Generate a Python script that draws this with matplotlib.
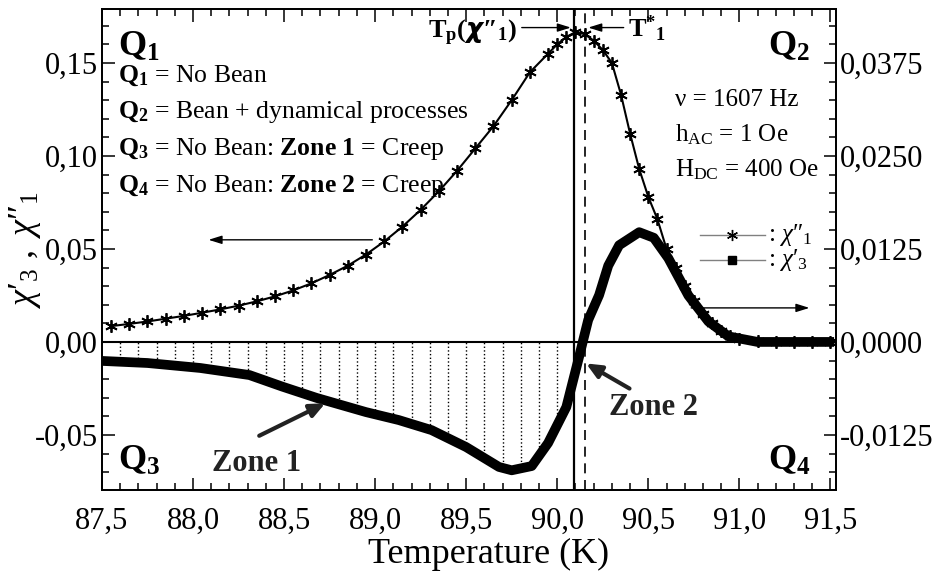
import numpy as np
import matplotlib
matplotlib.use("Agg")
import matplotlib.pyplot as plt
from matplotlib.ticker import MultipleLocator, FuncFormatter

plt.rcParams["font.family"] = ["Liberation Serif", "DejaVu Serif"]
plt.rcParams["mathtext.fontset"] = "custom"
plt.rcParams["mathtext.rm"] = "Liberation Serif"
plt.rcParams["mathtext.it"] = "Liberation Serif:italic"
plt.rcParams["mathtext.bf"] = "Liberation Serif:bold"

# chi''_1 (left axis)
t_chi1 = [87.55, 87.65, 87.75, 87.85, 87.95, 88.05, 88.15, 88.25, 88.35, 88.45,
          88.55, 88.65, 88.75, 88.85, 88.95, 89.05, 89.15, 89.25, 89.35, 89.45,
          89.55, 89.65, 89.75, 89.85, 89.95, 90.00, 90.05, 90.10, 90.15, 90.20,
          90.25, 90.30, 90.35, 90.40, 90.45, 90.50, 90.55, 90.60, 90.65, 90.70,
          90.75, 90.80, 90.85, 90.90, 90.95, 91.00, 91.10, 91.20, 91.30, 91.40, 91.50]
chi1 = [0.0085, 0.0097, 0.0110, 0.0125, 0.0140, 0.0157, 0.0175, 0.0195, 0.0218, 0.0245,
        0.0277, 0.0315, 0.0360, 0.0410, 0.0470, 0.0540, 0.0620, 0.0710, 0.0810, 0.0920,
        0.1040, 0.1160, 0.1300, 0.1450, 0.1550, 0.1600, 0.1640, 0.1665, 0.1655, 0.1620,
        0.1570, 0.1500, 0.1330, 0.1120, 0.0930, 0.0780, 0.0660, 0.0500, 0.0400, 0.0300,
        0.0220, 0.0150, 0.0100, 0.0060, 0.0030, 0.0015, 0.0005, 0.0, 0.0, 0.0, 0.0]

# chi'_3 (right axis)
t_chi3 = [87.50, 87.75, 88.04, 88.31, 88.49, 88.68, 88.95, 89.13, 89.31, 89.50,
          89.68, 89.75, 89.86, 89.95, 90.05, 90.12, 90.14, 90.17, 90.23, 90.28,
          90.34, 90.45, 90.53, 90.61, 90.72, 90.83, 90.94, 91.10, 91.30, 91.52]
chi3 = [-0.00255, -0.00283, -0.0035, -0.00445, -0.0060, -0.00753, -0.00943, -0.0105,
        -0.01185, -0.01413, -0.0168, -0.01725, -0.01668, -0.01358, -0.00875, -0.0020,
        0.0, 0.00295, 0.0063, 0.01025, 0.0130, 0.01475, 0.0140, 0.01125, 0.00625,
        0.00275, 0.00075, 0.0, 0.0, 0.0]

t_peak = 90.09
t_star = 90.155

fig = plt.figure(figsize=(9.35, 5.79), dpi=100)
ax = fig.add_axes([0.109, 0.1537, 0.785, 0.8308])
ax2 = ax.twinx()

ax.set_xlim(87.5, 91.53)
ax.set_ylim(-0.0796, 0.179)
ax2.set_ylim(-0.0796 / 4, 0.179 / 4)

comma = lambda fmt: FuncFormatter(lambda v, p: (fmt % v).replace(".", ","))
ax.xaxis.set_major_locator(MultipleLocator(0.5))
ax.xaxis.set_minor_locator(MultipleLocator(0.1))
ax.xaxis.set_major_formatter(comma("%.1f"))
ax.yaxis.set_major_locator(MultipleLocator(0.05))
ax.yaxis.set_minor_locator(MultipleLocator(0.01))
ax.yaxis.set_major_formatter(comma("%.2f"))
ax2.yaxis.set_major_locator(MultipleLocator(0.0125))
ax2.yaxis.set_minor_locator(MultipleLocator(0.0025))
ax2.yaxis.set_major_formatter(comma("%.4f"))

for a in (ax, ax2):
    a.tick_params(which="both", direction="in", labelsize=22, width=1.1, pad=3)
    a.tick_params(which="major", length=9)
    a.tick_params(which="minor", length=5)
    for s in a.spines.values():
        s.set_linewidth(1.3)
ax.tick_params(which="both", top=True)
ax.tick_params(axis="x", pad=12)

ax.set_xlabel("Temperature (K)", fontsize=26)
ax.xaxis.set_label_coords(0.527, -0.1)
ax.set_ylabel(r"$\chi′_3\ ,\ \chi″_1$", fontsize=26, labelpad=-6)

# reference lines
ax.axhline(0, color="black", lw=1.5, zorder=2)
ax.axvline(t_peak, color="black", lw=1.6, zorder=2)
ax.axvline(t_star, color="black", lw=1.2, ls=(0, (6, 4)), zorder=2)

# curves
ax.plot(t_chi1, chi1, color="black", lw=1.5, marker=(6, 2, 0), ms=9, mew=1.3, zorder=4)
ax2.plot(t_chi3, chi3, color="black", lw=7, solid_capstyle="butt", zorder=4)

# dotted hatching between chi'3 and zero (zone 1)
t3 = np.array(t_chi3)
c3 = np.array(chi3)
poly = ax2.fill_between(t3, c3, 0, where=t3 <= 90.14, facecolor="none", edgecolor="none")
vl = ax2.vlines(np.arange(87.6, 90.05, 0.1), -0.02, 0, colors="black", linestyles=":", lw=1.0)
vl.set_clip_path(poly.get_paths()[0], ax2.transData)

ax.set_zorder(ax2.get_zorder() + 1)
ax.patch.set_visible(False)

bold = dict(fontsize=22, fontweight="bold", color="#222222")
for x, y, s, ha in [(0.022, 0.92, r"$\mathbf{Q_1}$", "left"), (0.965, 0.92, r"$\mathbf{Q_2}$", "right"),
                    (0.022, 0.06, r"$\mathbf{Q_3}$", "left"), (0.965, 0.06, r"$\mathbf{Q_4}$", "right")]:
    ax.text(x, y, s, transform=ax.transAxes, ha=ha, va="center", fontsize=26)

lines = [r"$\mathbf{Q_1}$ = No Bean",
         r"$\mathbf{Q_2}$ = Bean + dynamical processes",
         r"$\mathbf{Q_3}$ = No Bean: $\mathbf{Zone\ 1}$ = Creep",
         r"$\mathbf{Q_4}$ = No Bean: $\mathbf{Zone\ 2}$ = Creep"]
for i, s in enumerate(lines):
    ax.text(0.022, 0.861 - i * 0.076, s, transform=ax.transAxes, ha="left", va="center", fontsize=18.5)

params = ["ν = 1607 Hz", r"h$_{\rm AC}$ = 1 Oe", r"H$_{\rm DC}$ = 400 Oe"]
for i, s in enumerate(params):
    ax.text(0.781, 0.811 - i * 0.073, s, transform=ax.transAxes, ha="left", va="center", fontsize=18)

# legend
ax.plot([0.815, 0.903], [0.530, 0.530], color="gray", lw=1.0, transform=ax.transAxes, clip_on=False)
ax.plot([0.858], [0.530], color="black", marker=(6, 2, 0), ms=8, mew=1.0, transform=ax.transAxes)
ax.plot([0.815, 0.903], [0.478, 0.478], color="gray", lw=1.0, transform=ax.transAxes, clip_on=False)
ax.plot([0.858], [0.478], color="black", marker="s", ms=6, transform=ax.transAxes)
ax.text(0.907, 0.530, r": $\chi″_1$", transform=ax.transAxes, ha="left", va="center", fontsize=18)
ax.text(0.907, 0.478, r": $\chi′_3$", transform=ax.transAxes, ha="left", va="center", fontsize=18)

# arrows
thin = dict(arrowstyle="-|>,head_length=0.8,head_width=0.25", color="black", lw=1.0)
ax.annotate("", xy=(88.07, 0.0549), xytext=(89.0, 0.0549), arrowprops=thin)
ax.annotate("", xy=(91.40, 0.0183), xytext=(90.72, 0.0183), arrowprops=thin)
ax.annotate("", xy=(t_peak, 0.169), xytext=(89.79, 0.169), arrowprops=thin)
ax.annotate("", xy=(t_star, 0.169), xytext=(90.38, 0.169), arrowprops=thin)
ax.text(89.78, 0.166, r"$\mathbf{T_p(}\boldsymbol{\chi}\mathbf{″_1)}$", ha="right", va="center", fontsize=19)
ax.text(90.39, 0.168, r"$\mathbf{T^{*}{}_{1}}$", ha="left", va="center", fontsize=19)

thick = dict(arrowstyle="-|>,head_length=0.9,head_width=0.4", color="#222222", lw=3.0)
ax.annotate("", xy=(88.74, -0.0323), xytext=(88.35, -0.0511), arrowprops=thick)
ax.text(88.35, -0.0655, "Zone 1", ha="center", va="center", **bold)
ax.annotate("", xy=(90.145, -0.0108), xytext=(90.41, -0.0258), arrowprops=thick)
ax.text(90.53, -0.035, "Zone 2", ha="center", va="center", **bold)

fig.savefig("out.png", dpi=100)
